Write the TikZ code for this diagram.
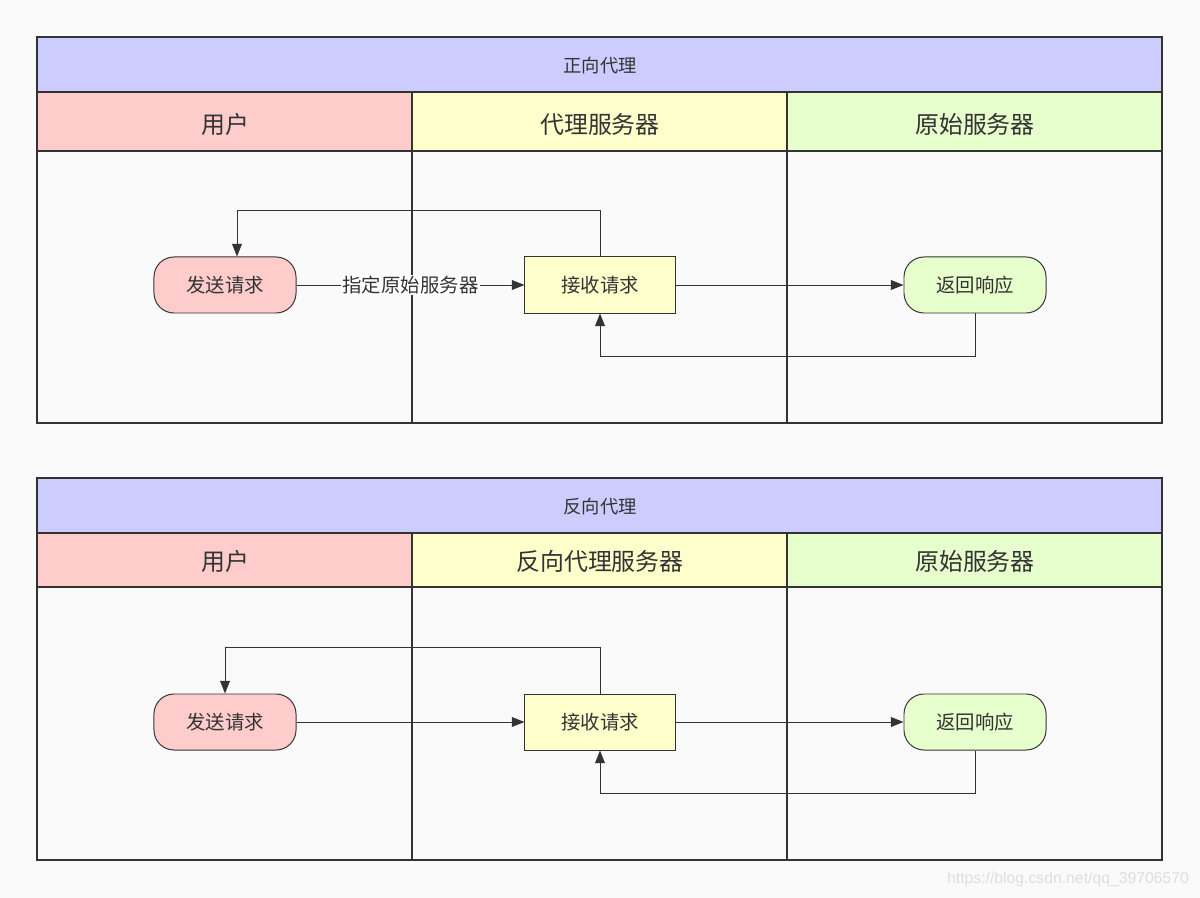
\documentclass[tikz,border=0pt]{standalone}
\usepackage{fontspec}
\setmainfont{Noto Sans CJK SC}
\newfontfamily\wmfont{Liberation Sans}
\usetikzlibrary{arrows.meta}
\definecolor{bg}{HTML}{FAFAFA}
\definecolor{pool}{HTML}{CCCCFF}
\definecolor{userlane}{HTML}{FFCCCC}
\definecolor{proxylane}{HTML}{FFFFCC}
\definecolor{originlane}{HTML}{E6FFCC}
\definecolor{ink}{HTML}{333333}
\tikzset{
  border/.style={draw=ink, line width=0.8pt},
  title/.style={text=ink, font=\fontsize{13pt}{15pt}\selectfont},
  head/.style={text=ink, font=\fontsize{17pt}{20pt}\selectfont},
  terminal/.style={draw=ink, line width=0.7pt, rounded corners=0.5cm, minimum width=3.55cm, minimum height=1.4cm, text=ink, font=\fontsize{13.8pt}{16pt}\selectfont},
  process/.style={draw=ink, line width=0.7pt, fill=proxylane, minimum width=3.75cm, minimum height=1.4cm, text=ink, font=\fontsize{13.8pt}{16pt}\selectfont},
  flow/.style={draw=ink, line width=0.7pt, -{Triangle[length=9pt,width=7pt]}},
  edgelabel/.style={fill=white, inner sep=1pt, text=ink, font=\fontsize{13.8pt}{16pt}\selectfont}
}
\begin{document}
\begin{tikzpicture}[x=0.025cm, y=-0.025cm]
    \fill[bg] (0,0) rectangle (1200,898);
    \useasboundingbox (0,0) rectangle (1200,898);

    % forward proxy
    \fill[pool] (37,37) rectangle (1162,92);
    \fill[userlane] (37,92) rectangle (412,151);
    \fill[proxylane] (412,92) rectangle (787,151);
    \fill[originlane] (787,92) rectangle (1162,151);
    \draw[border] (37,37) rectangle (1162,423);
    \draw[border] (37,92) -- (1162,92);
    \draw[border] (37,151) -- (1162,151);
    \draw[border] (412,92) -- (412,423);
    \draw[border] (787,92) -- (787,423);
    \node[title] (fwdtitle) at (600,66) {正向代理};
    \node[head] (fwduser) at (225,124) {用户};
    \node[head] (fwdproxy) at (600,124) {代理服务器};
    \node[head] (fwdorigin) at (975,124) {原始服务器};

    \node[terminal, fill=userlane] (fwdsend) at (225,285) {发送请求};
    \node[process] (fwdrecv) at (600,285) {接收请求};
    \node[terminal, fill=originlane] (fwdresp) at (975,285) {返回响应};
    \draw[flow] (fwdsend) -- node[edgelabel] {指定原始服务器} (fwdrecv);
    \draw[flow] (fwdrecv) -- (fwdresp);
    \draw[flow] (fwdresp.south) -- ++(0,43) -| (fwdrecv.south);
    \draw[flow] (fwdrecv.north) -- ++(0,-46) -| ([xshift=0.3cm]fwdsend.north);

    % reverse proxy
    \fill[pool] (37,478) rectangle (1162,533);
    \fill[userlane] (37,533) rectangle (412,587);
    \fill[proxylane] (412,533) rectangle (787,587);
    \fill[originlane] (787,533) rectangle (1162,587);
    \draw[border] (37,478) rectangle (1162,860);
    \draw[border] (37,533) -- (1162,533);
    \draw[border] (37,587) -- (1162,587);
    \draw[border] (412,533) -- (412,860);
    \draw[border] (787,533) -- (787,860);
    \node[title] (revtitle) at (600,507) {反向代理};
    \node[head] (revuser) at (225,561) {用户};
    \node[head] (revproxy) at (600,561) {反向代理服务器};
    \node[head] (revorigin) at (975,561) {原始服务器};

    \node[terminal, fill=userlane] (revsend) at (225,722) {发送请求};
    \node[process] (revrecv) at (600,722) {接收请求};
    \node[terminal, fill=originlane] (revresp) at (975,722) {返回响应};
    \draw[flow] (revsend) -- (revrecv);
    \draw[flow] (revrecv) -- (revresp);
    \draw[flow] (revresp.south) -- ++(0,43) -| (revrecv.south);
    \draw[flow] (revrecv.north) -- ++(0,-46) -| (revsend.north);

    \node[text=black!13, font=\wmfont\fontsize{11.2pt}{13pt}\selectfont] (mark) at (1068,879) {https://blog.csdn.net/qq\_39706570};
\end{tikzpicture}
\end{document}
